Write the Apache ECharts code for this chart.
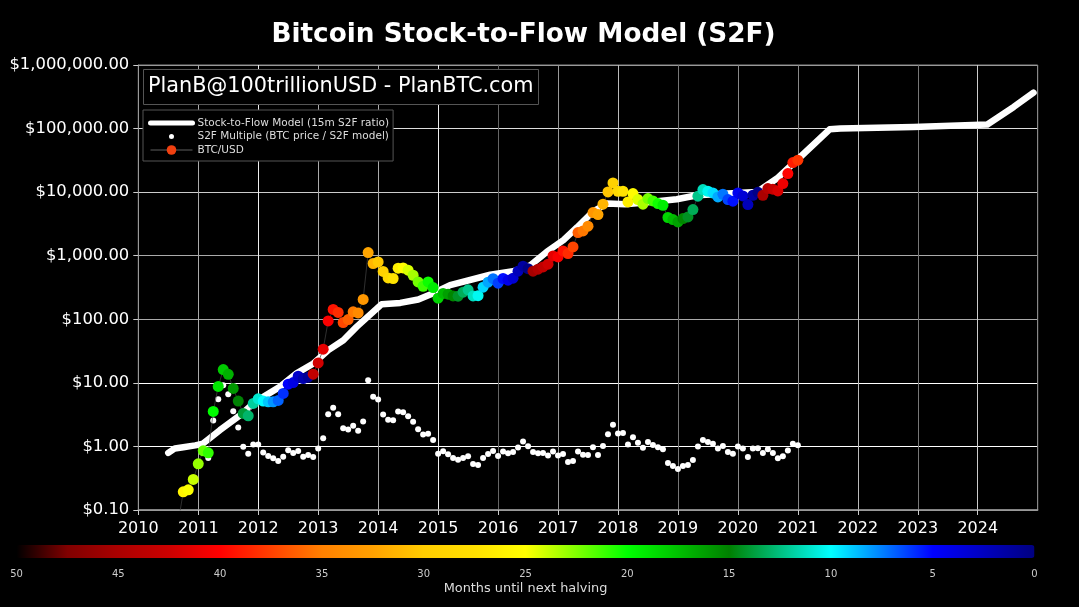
<!DOCTYPE html>
<html lang="en">

<head>
    <meta charset="UTF-8">
    <title>Bitcoin Stock-to-Flow Model (S2F)</title>
    <script src="https://cdn.jsdelivr.net/npm/echarts@6/dist/echarts.min.js"></script>
    <style>
        html, body { margin: 0; background: #000; }
        #main { width: 1079px; height: 607px; }
    </style>
</head>

<body>
    <div id="main"></div>
</body>
<script>
    // month-end closes, Aug 2010 to Dec 2020
    var firstMonth = 2010 + 8 / 12;
    var btcPrice = [0.065, 0.193, 0.208, 0.303, 0.532, 0.853, 0.793, 3.55, 8.78, 16.2, 13.6, 8.17,
        5.16, 3.30, 3.03, 4.74, 5.60, 5.16, 5.03, 5.03, 5.29, 6.81, 9.54, 10.1,
        12.7, 11.7, 12.3, 13.7, 20.6, 33.9, 94.4, 143, 128, 89, 99, 131,
        126, 205, 1122, 754, 799, 565, 448, 438, 636, 643, 592, 493,
        387, 331, 387, 316, 215, 255, 248, 233, 231, 267, 291, 233,
        235, 320, 383, 435, 370, 438, 412, 443, 570, 684, 625, 570,
        614, 667, 735, 993, 957, 1190, 1083, 1375, 2317, 2455, 2911, 4775,
        4446, 6457, 10070, 13960, 10330, 10330, 7015, 9506, 7656, 6457, 7925, 7278,
        6622, 6223, 3990, 3707, 3396, 3846, 4074, 5321, 8630, 10990, 10330, 9706,
        8414, 9268, 7656, 7195, 9706, 8710, 6383, 8933, 9954, 8933, 11400, 11120,
        10450, 13650, 19590, 29170, 31770];
    var s2fMultiple = [0.07, 0.20, 0.21, 0.31, 0.54, 0.85, 0.66, 2.56, 5.54, 9.2, 6.64, 3.59,
        1.99, 0.99, 0.77, 1.07, 1.07, 0.80, 0.71, 0.65, 0.59, 0.69, 0.87, 0.79,
        0.85, 0.69, 0.73, 0.68, 0.93, 1.34, 3.22, 4.05, 3.22, 1.94, 1.85, 2.11,
        1.77, 2.47, 11.0, 6.03, 5.48, 3.19, 2.62, 2.59, 3.55, 3.46, 2.99, 2.44,
        1.87, 1.54, 1.58, 1.26, 0.77, 0.84, 0.75, 0.66, 0.62, 0.66, 0.70, 0.53,
        0.51, 0.66, 0.76, 0.85, 0.71, 0.83, 0.78, 0.82, 0.96, 1.20, 1.01, 0.82,
        0.78, 0.79, 0.72, 0.83, 0.72, 0.76, 0.57, 0.59, 0.83, 0.74, 0.73, 0.97,
        0.73, 1.02, 1.56, 2.19, 1.60, 1.62, 1.07, 1.39, 1.14, 0.95, 1.17, 1.05,
        0.97, 0.90, 0.55, 0.49, 0.44, 0.49, 0.51, 0.61, 1.00, 1.26, 1.17, 1.10,
        0.93, 1.02, 0.82, 0.77, 1.00, 0.93, 0.68, 0.93, 0.94, 0.79, 0.90, 0.79,
        0.65, 0.70, 0.86, 1.10, 1.04];
    var modelYears = [2010.50, 2010.61, 2010.75, 2010.95, 2011.08, 2011.36, 2011.70, 2011.95, 2012.36, 2012.64,
        2012.92, 2013.17, 2013.42, 2013.64, 2014.06, 2014.37, 2014.67, 2014.92, 2015.20, 2015.87,
        2016.25, 2016.54, 2016.81, 2017.09, 2017.32, 2017.59, 2017.82, 2018.12, 2018.54, 2018.98,
        2019.32, 2019.98, 2020.32, 2020.65, 2021.04, 2021.53, 2021.71, 2022.93, 2024.16, 2024.60, 2024.93];
    var modelValues = [0.79, 0.93, 0.97, 1.04, 1.11, 1.80, 3.11, 5.03, 8.65, 14.1,
        20.2, 32.7, 46.9, 76, 173, 181, 205, 257, 344, 502,
        570, 709, 1148, 1754, 2805, 5012, 6622, 6457, 7015, 7727,
        8933, 9706, 10070, 16370, 35730, 97500, 100000, 105900, 115600, 218800, 368000];
    var halvings = [2012.91, 2016.52, 2020.36, 2024.16];
    // colour bar stops, 50 months down to 0 in steps of 2.5
    var barColors = ['#000000', '#800000', '#aa0000', '#cc0000', '#ff0000', '#ff4000', '#ff8000',
        '#ffa000', '#ffcc00', '#ffe000', '#ffff00', '#80ff00', '#00ff00', '#00c000', '#008000',
        '#00c080', '#00ffff', '#0080ff', '#0000ff', '#0000c0', '#000080'];
    var yearGrid = ['#888', '#aaa', '#eee', '#aaa', '#aaa', '#eee', '#666', '#999',
        '#bbb', '#777', '#888', '#888', '#bbb', '#777', '#ccc', '#888'];
    var decadeGrid = ['#999', '#fff', '#fff', '#aaa', '#aaa', '#ccc', '#ddd', '#999'];

    var FONT = '"DejaVu Sans"';
    var MODEL = 'Stock-to-Flow Model (15m S2F ratio)';
    var MULTIPLE = 'S2F Multiple (BTC price / S2F model)';
    var BTC = 'BTC/USD';

    function monthYear(i) {
        return firstMonth + i / 12;
    }

    function monthsLeft(year) {
        var next = halvings.filter(function(h) { return h > year; })[0];
        return (next - year) * 12;
    }

    var myChart = echarts.init(document.getElementById('main'));

    var option = {
        backgroundColor: '#000',
        animation: false,
        textStyle: { fontFamily: FONT },
        title: [{
            text: 'Bitcoin Stock-to-Flow Model (S2F)',
            left: 518.5,
            top: 17,
            textAlign: 'center',
            textStyle: { color: '#fff', fontSize: 26.3, fontWeight: 'bold', fontFamily: FONT }
        }, {
            text: 'PlanB@100trillionUSD - PlanBTC.com',
            left: 143,
            top: 69,
            padding: [7, 5, 7, 5],
            backgroundColor: '#000',
            borderColor: '#555',
            borderWidth: 1,
            textStyle: { color: '#fff', fontSize: 20.8, lineHeight: 22, fontWeight: 'normal', fontFamily: FONT }
        }],
        legend: {
            orient: 'vertical',
            left: 143,
            top: 110,
            padding: [7, 4, 5, 5],
            itemWidth: 42,
            itemHeight: 12,
            itemGap: -2,
            backgroundColor: '#000',
            borderColor: '#555',
            borderWidth: 1,
            selectedMode: false,
            textStyle: { color: '#ddd', fontSize: 10.5, lineHeight: 12, fontFamily: FONT },
            data: [
                { name: MODEL, itemStyle: { opacity: 0 }, lineStyle: { width: 5, cap: 'round' } },
                { name: MULTIPLE, itemStyle: { borderColor: '#000', borderWidth: 7 } },
                { name: BTC, itemStyle: { borderColor: '#f04010', borderWidth: 0 }, lineStyle: { width: 0.7, color: '#888' } }
            ]
        },
        grid: [{
            left: 138.3,
            right: 41.3,
            top: 65,
            height: 445,
            show: true,
            borderColor: '#888',
            borderWidth: 1
        }, {
            left: 16.5,
            width: 1018,
            top: 558,
            height: 1
        }],
        xAxis: [{
            type: 'value',
            min: 2010,
            max: 2025,
            interval: 1,
            axisLine: { lineStyle: { color: '#999', width: 1.5 } },
            axisTick: { length: 5, lineStyle: { color: '#ccc' } },
            splitLine: { lineStyle: { color: yearGrid, width: 1 } },
            axisLabel: {
                color: '#fff',
                fontSize: 16,
                margin: 11,
                showMaxLabel: false,
                formatter: function(v) { return String(v); }
            }
        }, {
            type: 'value',
            gridIndex: 1,
            min: 0,
            max: 50,
            interval: 5,
            inverse: true,
            name: 'Months until next halving',
            nameLocation: 'middle',
            nameGap: 23,
            nameTextStyle: { color: '#ddd', fontSize: 12.9, fontFamily: FONT },
            axisLine: { show: false },
            axisTick: { show: false },
            splitLine: { show: false },
            axisLabel: {
                color: '#ccc',
                fontSize: 10,
                margin: 10,
                hideOverlap: false,
                formatter: function(v) { return String(v); }
            }
        }],
        yAxis: [{
            type: 'log',
            logBase: 10,
            min: 0.1,
            max: 1000000,
            axisLine: { show: true, lineStyle: { color: '#999', width: 1 } },
            axisTick: { show: true, length: 5, lineStyle: { color: '#ccc' } },
            minorTick: { show: false },
            splitLine: { show: true, lineStyle: { color: decadeGrid, width: 1 } },
            axisLabel: {
                color: '#fff',
                fontSize: 16.4,
                margin: 9,
                padding: [2, 0, 0, 0],
                formatter: function(v) {
                    return '$' + Number(v).toLocaleString('en-US', { minimumFractionDigits: 2, maximumFractionDigits: 2 });
                }
            }
        }, {
            type: 'value',
            gridIndex: 1,
            show: false,
            min: 0,
            max: 1
        }],
        visualMap: {
            type: 'continuous',
            seriesIndex: 3,
            dimension: 2,
            min: 0,
            max: 50,
            inverse: true,
            orient: 'horizontal',
            left: 16.5,
            top: 545,
            padding: 0,
            itemWidth: 13,
            itemHeight: 1018,
            calculable: false,
            hoverLink: false,
            text: null,
            showLabel: false,
            inRange: { color: barColors.slice().reverse() },
            outOfRange: { color: ['#000'] }
        },
        series: [{
            name: MODEL,
            type: 'line',
            data: modelYears.map(function(y, i) { return [y, modelValues[i]]; }),
            showSymbol: false,
            silent: true,
            itemStyle: { color: '#fff' },
            lineStyle: { color: '#fff', width: 6.5, cap: 'round', join: 'round' },
            z: 2
        }, {
            name: MULTIPLE,
            type: 'scatter',
            data: s2fMultiple.map(function(v, i) { return [monthYear(i), v]; }),
            symbolSize: 6,
            silent: true,
            itemStyle: { color: '#fff', opacity: 1 },
            z: 3
        }, {
            name: BTC,
            type: 'line',
            data: btcPrice.map(function(v, i) { return [monthYear(i), v]; }),
            symbol: 'circle',
            showSymbol: false,
            silent: true,
            itemStyle: { color: '#f04010', borderColor: '#f04010', borderWidth: 0 },
            lineStyle: { color: '#444', width: 0.7 },
            z: 4
        }, {
            name: BTC,
            type: 'scatter',
            data: btcPrice.map(function(v, i) { return [monthYear(i), v, monthsLeft(monthYear(i))]; }),
            symbolSize: 11,
            silent: true,
            itemStyle: { color: '#f04010', opacity: 1 },
            z: 5
        }]
    };

    myChart.setOption(option);
</script>

</html>
